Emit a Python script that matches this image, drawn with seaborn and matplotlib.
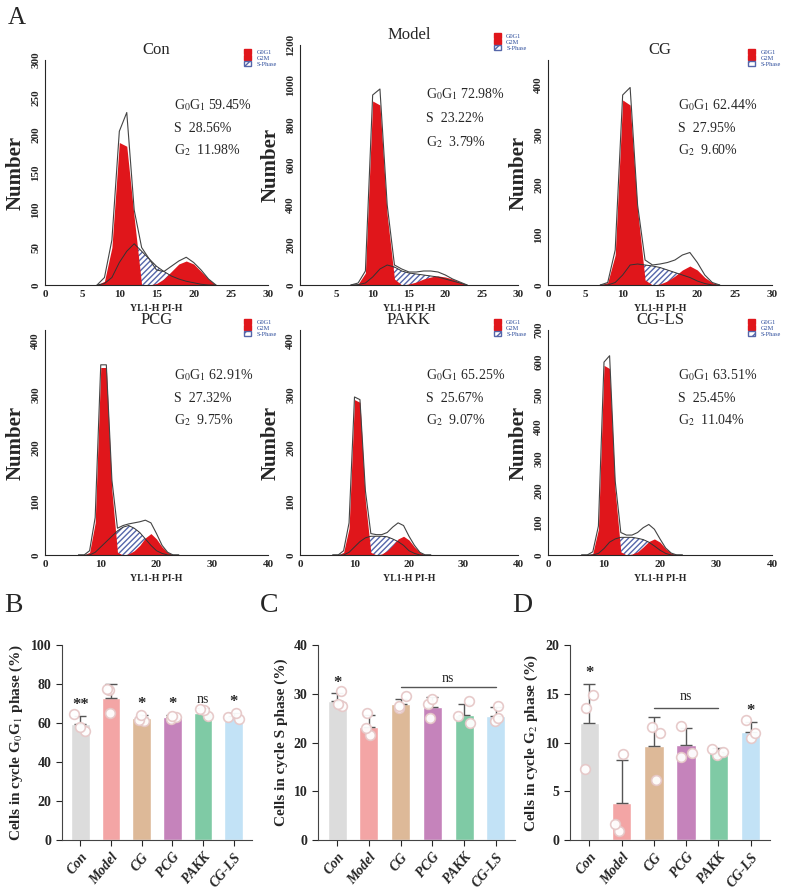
import numpy as np
import pandas as pd
import matplotlib
matplotlib.use("Agg")
import matplotlib.pyplot as plt
import seaborn as sns
from matplotlib.patches import Patch

sns.set_style("white")
plt.rcParams['font.family'] = ['Liberation Serif', 'DejaVu Serif']
plt.rcParams['mathtext.fontset'] = 'stix'

# ---------------- histogram data ----------------
x_a = [7, 8, 9, 10, 11, 12, 13, 14, 15, 16, 17, 18, 19, 20, 21, 22, 23]
x_b = [6, 7, 8, 9, 10, 11, 12, 13, 14, 15, 16, 17, 18, 19, 20, 21, 22, 23, 24]

con_g1 = [0, 5, 50, 190, 185, 90, 0, 0, 0, 0, 0, 0, 0, 0, 0, 0, 0]
con_s = [0, 2, 10, 30, 45, 55, 45, 35, 25, 18, 12, 8, 5, 3, 1, 0, 0]
con_g2 = [0, 0, 0, 0, 0, 0, 0, 0, 2, 8, 18, 28, 32, 28, 18, 8, 0]
con_tot = [0, 10, 60, 205, 230, 100, 50, 35, 20, 18, 25, 32, 37, 30, 20, 8, 0]

mod_g1 = [0, 5, 60, 920, 900, 350, 30, 0, 0, 0, 0, 0, 0, 0, 0, 0, 0]
mod_s = [0, 2, 10, 40, 80, 100, 90, 70, 60, 55, 50, 45, 40, 30, 20, 10, 0]
mod_g2 = [0, 0, 0, 0, 0, 0, 0, 0, 5, 15, 30, 40, 45, 40, 30, 15, 0]
mod_tot = [0, 10, 70, 950, 980, 400, 100, 80, 65, 65, 70, 70, 65, 50, 30, 15, 0]

cg_g1 = [0, 5, 60, 370, 360, 150, 10, 0, 0, 0, 0, 0, 0, 0, 0, 0, 0]
cg_s = [0, 0, 5, 20, 40, 42, 40, 38, 35, 30, 25, 20, 15, 8, 3, 0, 0]
cg_g2 = [0, 0, 0, 0, 0, 0, 0, 0, 2, 8, 18, 30, 38, 30, 15, 5, 0]
cg_tot = [0, 5, 70, 380, 395, 160, 50, 40, 42, 45, 50, 60, 65, 45, 20, 5, 0]

pcg_g1 = [0, 0, 5, 60, 350, 350, 120, 5, 0, 0, 0, 0, 0, 0, 0, 0, 0, 0, 0]
pcg_s = [0, 0, 0, 5, 15, 25, 35, 45, 52, 55, 50, 42, 30, 18, 8, 3, 0, 0, 0]
pcg_g2 = [0, 0, 0, 0, 0, 0, 0, 0, 0, 2, 8, 18, 32, 40, 30, 15, 5, 0, 0]
pcg_tot = [0, 0, 8, 70, 355, 355, 140, 50, 55, 58, 60, 62, 65, 60, 40, 18, 5, 0, 0]

pakk_g1 = [0, 0, 5, 50, 290, 285, 100, 5, 0, 0, 0, 0, 0, 0, 0, 0, 0, 0, 0]
pakk_s = [0, 0, 0, 5, 15, 25, 32, 35, 35, 35, 34, 30, 25, 18, 8, 3, 0, 0, 0]
pakk_g2 = [0, 0, 0, 0, 0, 0, 0, 0, 0, 2, 8, 18, 30, 35, 28, 15, 5, 0, 0]
pakk_tot = [0, 0, 8, 60, 295, 290, 120, 40, 38, 38, 42, 52, 60, 55, 35, 18, 5, 0, 0]

ls_g1 = [0, 0, 5, 80, 590, 580, 200, 10, 0, 0, 0, 0, 0, 0, 0, 0, 0, 0, 0]
ls_s = [0, 0, 0, 5, 20, 40, 50, 55, 55, 55, 52, 48, 40, 28, 15, 5, 0, 0, 0]
ls_g2 = [0, 0, 0, 0, 0, 0, 0, 0, 0, 3, 10, 25, 42, 50, 40, 20, 6, 0, 0]
ls_tot = [0, 0, 10, 90, 600, 620, 230, 70, 62, 62, 70, 85, 95, 80, 50, 22, 6, 0, 0]

hist_titles = ["Con", "Model", "CG", "PCG", "PAKK", "CG-LS"]
hist_g0g1 = ["59.45", "72.98", "62.44", "62.91", "65.25", "63.51"]
hist_s = ["28.56", "23.22", "27.95", "27.32", "25.67", "25.45"]
hist_g2 = ["11.98", "3.79", "9.60", "9.75", "9.07", "11.04"]
hist_xmax = [30, 30, 30, 40, 40, 40]
hist_ymax = [300, 1200, 450, 420, 420, 700]
hist_ystep = [50, 200, 100, 100, 100, 100]

hist_data = [
    (x_a, con_g1, con_s, con_g2, con_tot),
    (x_a, mod_g1, mod_s, mod_g2, mod_tot),
    (x_a, cg_g1, cg_s, cg_g2, cg_tot),
    (x_b, pcg_g1, pcg_s, pcg_g2, pcg_tot),
    (x_b, pakk_g1, pakk_s, pakk_g2, pakk_tot),
    (x_b, ls_g1, ls_s, ls_g2, ls_tot),
]

# ---------------- bar data ----------------
groups = ["Con", "Model", "CG", "PCG", "PAKK", "CG-LS"]
colors = ["#dcdcdc", "#f3a5a5", "#ddb998", "#c583bb", "#7fcaa5", "#c2e2f6"]

g1_mean = [59.45, 72.98, 62.44, 62.91, 65.25, 63.51]
g1_sd = [4.2, 7.0, 1.6, 1.2, 2.2, 1.8]
g1_pts = [[56, 58, 64.5], [65, 77, 77.5], [61, 61.5, 64], [62, 63, 63.5], [63.5, 66.5, 67], [62, 63, 65]]
g1_sig = ["**", "", "*", "*", "ns", "*"]

s_mean = [28.56, 23.22, 27.95, 27.32, 25.67, 25.45]
s_sd = [1.5, 2.5, 1.0, 2.0, 2.3, 1.8]
s_pts = [[27.5, 28, 30.5], [21.5, 23, 26], [27, 27.5, 29.5], [25, 28, 29], [24, 25.5, 28.5], [24.5, 25, 27.5]]
s_sig = ["*", "", "", "", "", ""]

g2_mean = [11.98, 3.79, 9.60, 9.75, 9.07, 11.04]
g2_sd = [4.0, 4.4, 3.0, 1.7, 0.4, 1.1]
g2_pts = [[7.3, 13.5, 14.9], [0.9, 1.6, 8.8], [6.2, 11.0, 11.6], [8.5, 8.9, 11.7], [8.7, 9.0, 9.3], [10.5, 11.0, 12.3]]
g2_sig = ["*", "", "", "", "", "*"]

fig = plt.figure(figsize=(7.94, 8.89), dpi=100)
W, H = 794, 889

def axpx(x0, y0, x1, y1):
    return fig.add_axes([x0 / W, 1 - y1 / H, (x1 - x0) / W, (y1 - y0) / H])

hist_boxes = [(45, 60, 268, 285), (300, 45, 518, 285), (548, 60, 772, 285),
              (45, 330, 268, 555), (300, 330, 518, 555), (548, 330, 772, 555)]
red = "#e0161b"
for i, (box, d) in enumerate(zip(hist_boxes, hist_data)):
    ax = axpx(*box)
    xs, g1, s, g2, tot = [np.array(v, float) for v in d]
    ax.fill_between(xs, 0, s, facecolor="white", edgecolor="#5566aa", hatch="//////", lw=0)
    ax.fill_between(xs, 0, g1, color=red, lw=0)
    ax.fill_between(xs, 0, g2, color=red, lw=0)
    sns.lineplot(x=xs, y=s, ax=ax, color="#333333", lw=0.7)
    sns.lineplot(x=xs, y=tot, ax=ax, color="#444444", lw=0.8)
    ax.set_xlim(0, hist_xmax[i])
    ax.set_ylim(0, hist_ymax[i])
    ax.set_yticks(np.arange(0, hist_ymax[i] + 1, hist_ystep[i]))
    step = 5 if hist_xmax[i] == 30 else 10
    ax.set_xticks(np.arange(0, hist_xmax[i] + 1, step))
    ax.set_xticks(np.arange(0, hist_xmax[i] + 1, 1), minor=True)
    for sp in ["top", "right"]:
        ax.spines[sp].set_visible(False)
    ax.tick_params(axis="both", which="both", direction="in", length=3, labelsize=8)
    ax.tick_params(axis="x", which="major", length=5)
    for lab in ax.get_yticklabels():
        lab.set_rotation(90); lab.set_va("center"); lab.set_fontweight("bold")
    for lab in ax.get_xticklabels():
        lab.set_fontweight("bold")
    ax.set_title(hist_titles[i], fontsize=12, pad=4)
    ax.set_ylabel("Number", fontsize=15, fontweight="bold")
    ax.set_xlabel("YL1-H PI-H", fontsize=7, fontweight="bold")
    ax.text(0.58, 0.78, r"G$_0$G$_1$ " + hist_g0g1[i] + "%", transform=ax.transAxes, fontsize=10)
    ax.text(0.58, 0.68, "S  " + hist_s[i] + "%", transform=ax.transAxes, fontsize=10)
    ax.text(0.58, 0.58, r"G$_2$  " + hist_g2[i] + "%", transform=ax.transAxes, fontsize=10)
    leg = ax.legend(handles=[Patch(color=red, label="G0G1"), Patch(color=red, label="G2M"),
                             Patch(facecolor="white", edgecolor="#5566aa", hatch="///", label="S-Phase")],
                    loc="upper right", bbox_to_anchor=(1.05, 1.06), fontsize=4.5, frameon=False,
                    handlelength=1.2, handleheight=0.8, labelspacing=0.1, borderaxespad=0)
    for t in leg.get_texts():
        t.set_color("#2a4a9a")

fig.text(8 / W, 1 - 18 / H, "A", fontsize=18, va="center")

bar_boxes = [(62, 645, 252, 840), (318, 645, 515, 840), (570, 645, 770, 840)]
bar_sets = [(g1_mean, g1_sd, g1_pts, g1_sig, 100, 20, r"Cells in cycle G$_0$G$_1$ phase (%)"),
            (s_mean, s_sd, s_pts, s_sig, 40, 10, "Cells in cycle S phase (%)"),
            (g2_mean, g2_sd, g2_pts, g2_sig, 20, 5, r"Cells in cycle G$_2$ phase (%)")]
letters = ["B", "C", "D"]
for j, (box, (m, sd, pts, sig, ymax, ystep, ylab)) in enumerate(zip(bar_boxes, bar_sets)):
    ax = axpx(*box)
    df = pd.DataFrame({"group": groups, "mean": m})
    sns.barplot(data=df, x="group", y="mean", hue="group", palette=colors, legend=False,
                ax=ax, width=0.6, saturation=1)
    for k in range(len(groups)):
        ax.errorbar(k, m[k], yerr=[[0], [sd[k]]], color="#555555", capsize=4, lw=1, capthick=1)
    pdf = pd.DataFrame({"group": [g for g, p in zip(groups, pts) for _ in p],
                        "val": [v for p in pts for v in p]})
    sns.stripplot(data=pdf, x="group", y="val", ax=ax, jitter=0.2, size=7, color="white",
                  edgecolor="#e6c8c8", linewidth=1.2, alpha=0.95)
    for k in range(len(groups)):
        if sig[k]:
            ax.text(k, m[k] + sd[k] + ymax * 0.015, sig[k], ha="center", va="bottom",
                    fontsize=12 if sig[k] != "ns" else 10, fontweight="bold" if sig[k] != "ns" else "normal")
    if j == 1:
        ax.plot([2, 5], [31.3, 31.3], color="#555555", lw=1)
        ax.text(3.5, 31.8, "ns", ha="center", va="bottom", fontsize=10)
    if j == 2:
        ax.plot([2, 4], [13.5, 13.5], color="#555555", lw=1)
        ax.text(3, 14.0, "ns", ha="center", va="bottom", fontsize=10)
    ax.set_ylim(0, ymax)
    ax.set_yticks(np.arange(0, ymax + 1, ystep))
    ax.set_xlim(-0.6, 5.6)
    for sp in ["top", "right"]:
        ax.spines[sp].set_visible(False)
    ax.spines["left"].set_color("#444444"); ax.spines["bottom"].set_color("#444444")
    ax.tick_params(axis="both", direction="out", length=4, labelsize=10, left=True, bottom=True)
    ax.set_xticks(range(6))
    ax.set_xticklabels(groups, rotation=50, ha="right", rotation_mode="anchor",
                       fontweight="bold", fontstyle="italic", fontsize=10)
    for lab in ax.get_yticklabels():
        lab.set_fontweight("bold")
    ax.set_xlabel("")
    ax.set_ylabel(ylab, fontsize=11, fontweight="bold")
    fig.text((box[0] - 58) / W, 1 - 605 / H, letters[j], fontsize=20, va="center")

fig.savefig("out.png", dpi=100)
